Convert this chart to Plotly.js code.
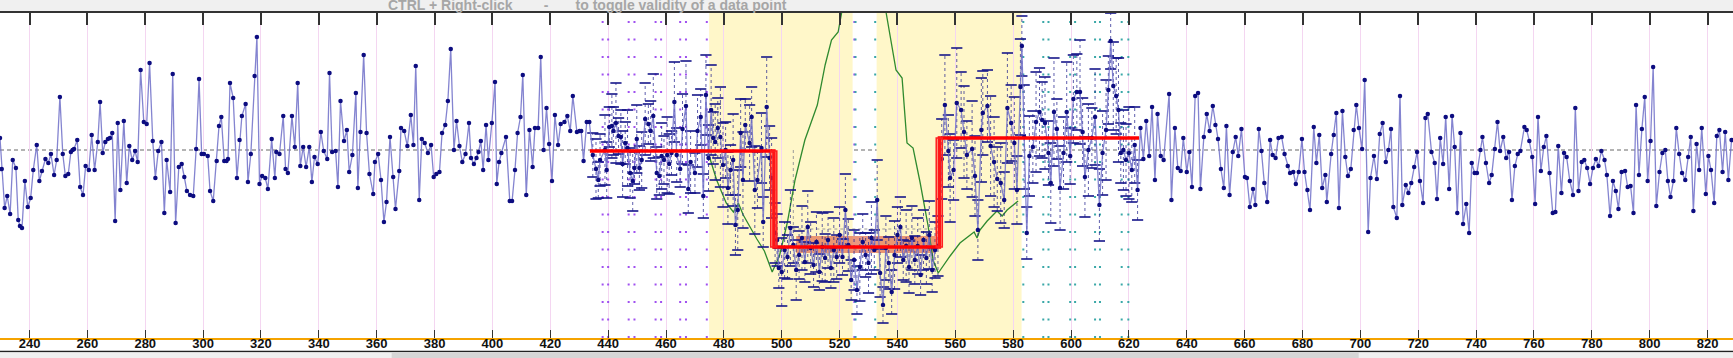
<!DOCTYPE html>
<html><head><meta charset="utf-8">
<script src="https://cdn.plot.ly/plotly-3.0.1.min.js"></script>
<style>html,body{margin:0;padding:0;background:#fff;overflow:hidden}#chart{width:1733px;height:358px}</style>
</head><body><div id="chart"></div>
<script>
// ---------- data ----------
const tickVals = [240,260,280,300,320,340,360,380,400,420,440,460,480,500,520,540,560,580,600,620,640,660,680,700,720,740,760,780,800,820];
const tickText = tickVals.map(String);

const leftX = [229.8,230.4,231.4,232.3,233.3,234.2,235.3,236.1,236.7,237.4,238.4,239.4,240.4,241.3,242.5,243.4,244.3,245.5,246.5,247.4,248.5,249.4,250.5,251.5,252.4,253.4,254.3,254.9,255.4,256.5,257.5,258.5,259.4,260.5,261.5,262.5,263.6,264.4,265.3,266.2,267.1,267.8,268.6,269.6,270.5,271.4,272.6,273.6,274.5,275.5,276.5,277.4,278.4,279.5,280.5,281.5,282.6,283.5,284.5,285.6,286.6,287.4,288.6,289.5,290.5,291.6,292.6,293.5,294.4,295.5,296.6,297.6,298.6,
299.5,300.3,301.6,302.4,303.5,304.7,305.5,306.3,307.3,308.1,
308.6,309.3,310.4,311.7,312.6,313.4,314.7,315.5,316.5,317.8,
318.6,319.5,320.4,321.5,322.4,323.7,324.8,325.3,326.4,327.7,
328.5,329.3,330.7,331.7,332.7,333.6,334.6,335.6,336.7,337.6,
338.5,339.6,340.7,341.7,342.9,343.7,344.6,345.8,346.6,347.5,
348.7,349.7,350.5,351.6,352.8,353.5,354.4,355.5,356.5,357.5,
358.8,359.4,360.5,361.5,362.5,363.4,364.6,365.7,366.5,367.8,
368.4,369.5,370.6,371.8,372.7,373.5,374.7,375.6,376.6,377.7,
378.8,379.7,380.6,381.7,382.6,383.7,384.6,385.6,386.7,387.6,
388.6,389.6,390.7,391.9,392.6,393.6,394.5,395.2,396.0,396.8,
397.8,398.6,399.8,400.9,401.5,402.3,403.1,404.7,406.0,406.8,
407.8,408.7,409.7,410.5,411.7,412.8,413.9,414.7,415.8,416.7,
417.7,418.7,419.6,420.6,421.6,422.7,423.6,424.9,425.9,426.9,
427.8,429.2,430.1,430.7,431.5,432.6,433.5];
const leftV = [12,-19,-58,-46,-64,-10,-18,-70,-76,-78,-31,-57,-48,-20,5,-31,-21,-9,-13,-4,-25,-10,53,-4,-26,-24,-2,0,1,10,-37,-45,-16,-20,15,-20,8,48,-3,8,11,12,17,-71,27,-40,29,-33,4,-10,-1,-12,80,28,26,87,9,-28,-1,8,-63,-10,-42,76,-73,-17,-14,-27,-41,-45,-46,1,71,
-4,-4,-6,-41,-51,-11,24,33,-11,-11,
-9,67,52,-28,10,34,46,-32,-4,74,
113,-34,-26,-28,-39,11,-28,-2,-4,34,
-19,-23,34,3,67,-16,3,-17,3,-32,
-7,-14,18,-1,-9,77,-2,-1,-37,49,
9,20,-22,-5,57,-38,18,95,17,-24,
-44,-12,-4,-30,-72,-52,13,-27,-59,-21,
22,19,4,35,5,84,-50,11,7,-3,
5,-27,-24,-22,17,25,49,101,0,29,
4,-12,-4,27,-8,-14,-8,-2,9,-20,
25,-10,27,68,-34,-12,-3,13,-51,-51,
-20,17,33,75,-45,20,-17,22,22,93,
0,42,6,-31,35,5,26,28,34,19,
54,18,19,19,-11,28,28];

const midX = [434.7,435.8,436.6,437.2,438.9,439.5,440.4,441.3,441.8,442.7,
443.6,444.4,445.0,445.9,446.7,447.6,448.5,449.1,449.9,450.8,
451.6,452.8,453.9,454.7,455.6,456.8,457.7,458.5,459.3,460.4,
461.1,461.9,462.9,463.7,464.9,465.7,466.9,467.7,468.5,470.0,
470.9,472.0,472.9,473.8,474.7,475.6,476.3,477.0,477.9,478.8,
479.7,480.6,481.4,482.3,483.2,484.0,484.8,485.8,486.6,487.4,
488.9,489.6,490.7,491.6,493.0,493.6,494.8,495.8,496.5,497.7,
498.4,499,500,501,502,503,504,505,506,507,
508,509,510,511,512,513,514,515,516,517,
518,519,520,521,522,523,524,525,526,527,
528,529,530,531,532,533,534,535,536,537,
538,539,540,541,542,543,544,545,546,547,
548,549,550,551,552,553,554,555.3,556.4,557.6,
558.2,559.4,560.5,562.0,563.0,564.0,565.8,566.8,567.8,569.0,
569.5,571.1,572.2,573.4,574.5,575.7,576.9,578.0,579.3,580.4,
581.3,582.5,583.0,583.8,584.7,585.6,586.8,587.9,589.1,590.0,
591.0,592.2,593.0,594.1,595.1,596.2,597.4,598.5,599.7,600.8,
602.0,603.1,604.0,604.8,606.0,607.2,608.3,609.8,610.9,612.1,
612.9,613.7,614.6,615.6,616.4,617.2,618.1,619.0,620.0,621.0,
622.0,623.0];
const midV = [-5,-19,-30,-10,0,-20,23,24,19,27,
14,13,-14,7,2,-23,-31,-18,11,-18,
-10,31,26,19,34,-23,-26,-6,-10,-5,
-14,-3,48,-5,-19,21,44,-39,-12,-23,
19,33,-46,55,-8,40,12,8,22,13,
-15,0,-38,-20,-10,-75,-60,17,-30,25,
7,33,-40,-30,2,-72,43,-8,-28,-83,
-90,-118,-122,-100,-107,-78,-95,-120,-105,-88,
-112,-77,-98,-115,-92,-122,-97,-108,-90,-118,
-100,-107,-85,-107,-60,-95,-130,-110,-140,-117,
-92,-105,-113,-88,-100,-50,-123,-155,-98,-113,
-142,-105,-85,-77,-110,-96,-117,-88,-110,-96,
-125,-90,-108,-85,-120,-100,-96,-9,45,-1,
-28,-20,47,40,18,-5,1,-26,-80,20,
37,44,4,-12,-29,-33,-50,42,27,7,
-40,63,104,13,-83,-6,3,28,38,30,
27,-3,-33,38,21,-38,-3,38,-6,51,
58,58,18,-27,0,12,33,-55,-3,20,
60,109,64,54,40,-3,0,-10,-3,-20,
5,-40];
const midErr = [22,30,18,26,35,28,20,32,24,40,
18,27,33,21,38,25,30,16,34,22,
28,36,20,30,42,26,19,33,24,38,
30,22,40,27,18,35,45,24,31,20,
36,28,22,40,33,45,26,38,30,50,
42,28,36,25,46,30,40,34,48,26,
38,30,44,28,35,25,50,32,40,30,
26,20,34,28,22,38,18,30,24,32,
20,36,26,22,30,18,34,24,28,20,
32,22,28,18,36,26,20,30,24,34,
28,22,30,36,20,40,24,18,32,26,
22,34,28,30,20,36,26,32,24,28,
20,30,26,34,22,28,30,40,50,36,
44,30,55,38,46,34,48,40,30,52,
42,36,50,45,32,40,28,55,38,46,
34,48,30,52,26,40,36,50,44,38,
46,32,40,54,30,42,36,50,28,44,
38,52,34,40,46,30,48,36,42,50,
34,28,44,38,52,30,40,36,46,32,
38,30];

const rightX = [624.0,625.0,626.0,627.0,628.0,629.0,629.9,631.0,632.0,633.9,
634.7,635.9,636.9,637.9,638.8,640.0,640.9,641.8,642.9,643.9,
644.7,645.9,646.9,647.9,649.0,649.9,650.8,651.8,652.8,653.7,
654.8,655.9,656.9,657.8,658.9,660.1,660.8,661.8,662.9,663.7,
664.9,665.8,666.8,667.8,668.8,669.7,670.7,671.7,672.8,673.8,
674.9,675.7,676.8,677.7,678.7,679.8,680.7,681.7,682.6,683.9,
684.8,685.8,686.8,687.9,688.4,689.9,690.8,691.7,692.6,693.8,
694.8,695.7,696.7,697.7,698.6,699.5,700.6,701.5,702.7,703.5,
704.7,705.7,706.7,707.7,708.8,709.7,710.6,711.4,712.6,713.7,
714.5,715.7,716.6,717.6,718.6,719.6,720.6,721.7,722.5,723.3,
724.6,725.7,726.5,727.6,728.6,729.5,730.7,731.7,732.6,733.5,
734.6,735.5,736.6,737.6,738.5,739.5,740.3,741.5,742.2,743.4,
744.5,745.4,746.5,747.4,748.3,749.4,750.4,751.4,752.4,753.4,
754.4,755.3,756.7,757.5,758.4,759.4,760.4,761.4,762.4,763.4,
764.3,765.4,766.5,767.4,768.4,769.5,770.4,771.3,772.4,773.5,
774.3,775.4,776.5,777.4,778.4,779.4,780.4,781.4,782.3,783.3,
784.4,785.2,786.3,787.3,788.3,789.2,790.3,791.5,792.4,793.4,
794.4,795.3,796.3,797.3,798.3,799.3,800.3,801.2,802.3,803.4,
804.4,805.4,806.3,807.2,808.2,809.2,810.2,811.2,812.3,813.3,
814.2,815.1,816.2,817.1,818.0,819.4,820.3,821.2,822.3,823.2,
824.1,825.2,826.1,827.2,828.3];
const rightV = [22,-9,29,-6,43,-30,36,-6,-10,56,
-50,22,-18,-21,12,-22,-2,-37,54,57,
-39,13,36,19,44,25,11,-19,-38,24,
-45,-2,13,-6,21,-27,-28,-57,-39,-55,
21,-1,-33,-52,10,-5,-8,12,13,-4,
-16,-23,-22,-34,-22,11,-22,-40,-60,23,
-13,15,-38,-25,-52,-4,15,37,-58,39,
-7,-26,-19,20,45,22,1,70,-82,-28,
-6,-29,16,27,-12,0,21,-57,-68,54,
-55,-35,-43,-33,-17,-2,-31,-53,32,36,
-2,-13,-49,12,-14,33,-39,34,3,-63,
17,-74,-54,-83,-13,-23,-23,0,13,-13,
-33,-25,1,28,-1,13,-8,-2,-50,-16,
-4,-1,23,20,9,-7,-54,33,-21,3,
14,-23,-63,-62,4,-43,-3,-7,-31,-45,
42,-41,-12,-10,-18,-34,-18,-9,-16,-1,
-10,-25,-66,-31,-41,-59,-22,-21,-37,-36,
-63,45,-25,21,53,-31,9,83,-56,-22,
-3,0,-31,-47,-31,22,-4,-23,-30,-7,
13,-61,6,-20,22,-44,-6,-20,-53,14,
20,-22,18,-30,10];

const greenX = [474.6,477.5,480.8,483.3,485.0,486.7,491.4,494.0,496.7,499.2,501.9,504.6,508.0,512.3,515.0,517.2,519.5,520.7,521.5,535.4,536.1,539.5,541.6,543.3,545.4,547.8,550.6,552.3,554.1,558.2,561.6,566.5,567.5,568.5,571.0,574.4,576.2,577.9,581.7];
const greenV = [-3,-30,-53,-62,-53,-65,-89,-101,-122,-106,-73,-30,10,45,85,110,118,137,150,150,137,80,72,7,2,-32,-76,-110,-123,-106,-93,-82,-88,-80,-71,-61,-66,-60,-51];

const stepX = [433.7,497.3,554.5,623.5];
const stepV = [-1,-97,12,12];
const stepEdgeBands = [[496.2,498.3,-97,-1],[553.4,555.5,-97,12]];
const windowBands = [[474.9,524.5],[532.8,582.9]];
const salmonBand = [505,553,-103,-86];
const purpleCols = [438.1,440.0,447.1,449.1,456.4,458.3,464.9,466.9,474.1,525.1];
const tealCols = [525.5,532.3,583.5,590.4,592.2,599.7,601.4,608.3,610.0,617.5,619.8];
const refLevel = 0;
const lowBoxX = [504,504,553];
const lowBoxV = [0,-79,-79];
const xRange = [229.8,828.8];
const yRange = [-188,137];
const noteText = 'CTRL + Right-click' + '\u00a0'.repeat(8) + '-' + '\u00a0'.repeat(7) + 'to toggle validity of a data point';

// ---------- build ----------
const H = 358, TOP = 13, PH = H - TOP;          // paper height in px (below top margin)
const py = px => (H - px) / PH;                  // page pixel row -> paper fraction

const seriesX = leftX.concat(midX, rightX);
const seriesV = leftV.concat(midV, rightV);

const ebX = [], ebY = [], capX = [], capY = [];
midX.forEach((x, i) => {
  const lo = midV[i] - midErr[i], hi = midV[i] + midErr[i];
  ebX.push(x, x, null); ebY.push(lo, hi, null);
  capX.push(x, x); capY.push(lo, hi);
});

const shapes = [];
shapes.push({type:'rect', xref:'paper', yref:'paper', x0:0, x1:1, y0:py(13), y1:py(0), fillcolor:'#f0f0f0', line:{width:0}, layer:'below'});
shapes.push({type:'line', xref:'paper', yref:'paper', x0:0, x1:1, y0:py(351.5), y1:py(351.5), line:{color:'#222', width:1.5}});
shapes.push({type:'rect', xref:'paper', yref:'paper', x0:0, x1:1, y0:py(352.5), y1:py(358), fillcolor:'#f0f0f0', line:{width:0}});
shapes.push({type:'rect', xref:'paper', yref:'paper', x0:0.226, x1:0.784, y0:py(352.5), y1:py(358), fillcolor:'#d6d6d6', line:{width:0}});

windowBands.forEach(b => shapes.push({type:'rect', xref:'x', yref:'y', x0:b[0], x1:b[1], y0:yRange[0], y1:yRange[1], fillcolor:'#fff7c9', line:{width:0}, layer:'below'}));
purpleCols.forEach(c => shapes.push({type:'line', xref:'x', yref:'y', x0:c, x1:c, y0:yRange[0], y1:yRange[1] - 4, line:{color:'#a050f0', width:2, dash:'2px,15.5px'}, layer:'between'}));
tealCols.forEach(c => shapes.push({type:'line', xref:'x', yref:'y', x0:c, x1:c, y0:yRange[0], y1:yRange[1] - 4, line:{color:'#3aa8a8', width:2, dash:'2px,15.5px'}, layer:'between'}));
shapes.push({type:'line', xref:'paper', yref:'y', x0:0, x1:1, y0:refLevel, y1:refLevel, line:{color:'#9a9a9a', width:1.5, dash:'4px,3px'}, layer:'between'});
shapes.push({type:'rect', xref:'x', yref:'y', x0:salmonBand[0], x1:salmonBand[1], y0:salmonBand[2], y1:salmonBand[3], fillcolor:'rgba(226,112,80,0.72)', line:{width:0}, layer:'between'});
stepEdgeBands.forEach(b => shapes.push({type:'rect', xref:'x', yref:'y', x0:b[0], x1:b[1], y0:b[2], y1:b[3], fillcolor:'rgba(255,70,70,0.3)', line:{color:'#ff2020', width:1.5}, layer:'above'}));

const traces = [
  {x: lowBoxX, y: lowBoxV, mode:'lines', line:{color:'#9a9a9a', width:1, dash:'dot'}, hoverinfo:'skip'},
  {x: greenX, y: greenV, mode:'lines', line:{color:'#2f8a2f', width:1.3}, hoverinfo:'skip'},
  {x: ebX, y: ebY, mode:'lines', line:{color:'rgba(26,26,138,0.7)', width:1, dash:'dot'}, hoverinfo:'skip'},
  {x: capX, y: capY, mode:'markers', marker:{symbol:'line-ew', size:8, line:{color:'#16168a', width:1.6}}, hoverinfo:'skip'},
  {x: seriesX, y: seriesV, mode:'lines+markers', line:{color:'rgba(110,110,200,0.85)', width:1.3}, marker:{color:'#0c0c80', size:4.5, symbol:'circle'}, hoverinfo:'skip'},
  {x: stepX, y: stepV, mode:'lines', line:{color:'#ff0000', width:3.5, shape:'hv'}, hoverinfo:'skip'},
  {x: tickVals, y: tickVals.map(() => null), xaxis:'x2', mode:'markers', hoverinfo:'skip'},
  {x: tickVals, y: tickVals.map(() => null), xaxis:'x3', mode:'markers', hoverinfo:'skip'}
];

const labelFont = {family:'Liberation Sans, Arial, sans-serif', size:13, color:'#111', weight:'bold'};
const layout = {
  width:1733, height:358,
  margin:{l:0, r:0, t:TOP, b:0, pad:0},
  paper_bgcolor:'#ffffff', plot_bgcolor:'#ffffff',
  showlegend:false,
  font:{family:'Liberation Sans, Arial, sans-serif'},
  xaxis:{range:xRange, tickvals:tickVals, showticklabels:false, showgrid:true, gridcolor:'#f4d6f1', gridwidth:1,
         zeroline:false, showline:true, linecolor:'#f5a300', linewidth:2, ticks:'inside', ticklen:8, tickwidth:1, tickcolor:'#333', fixedrange:true},
  xaxis2:{overlaying:'x', matches:'x', anchor:'y', side:'top', tickvals:tickVals, showticklabels:false, ticks:'inside', ticklen:12, tickwidth:2, tickcolor:'#333',
          showline:true, linecolor:'#333', linewidth:2, showgrid:false, zeroline:false, fixedrange:true},
  xaxis3:{overlaying:'x', matches:'x', anchor:'free', position:py(334), tickvals:tickVals, ticktext:tickText, showticklabels:true, ticks:'',
          showline:false, showgrid:false, zeroline:false, tickfont:labelFont, fixedrange:true},
  yaxis:{domain:[py(338), 1], range:yRange, showgrid:false, zeroline:false, showticklabels:false, showline:false, ticks:'', fixedrange:true},
  shapes:shapes,
  annotations:[{xref:'paper', yref:'paper', x:(387/1733), y:py(14.5), xanchor:'left', yanchor:'bottom', showarrow:false,
    text:noteText, font:{family:'Liberation Sans, Arial, sans-serif', size:14, color:'#a6a6a6', weight:'bold'}, borderpad:0}]
};

Plotly.newPlot('chart', traces, layout, {displayModeBar:false, staticPlot:true});
</script>
</body></html>
